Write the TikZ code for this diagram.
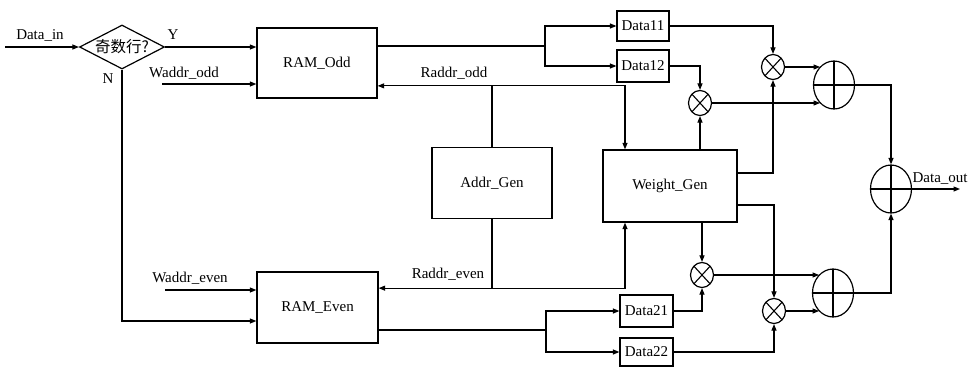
\documentclass[tikz,border=0pt]{standalone}
\usepackage{fontspec}
\setmainfont{Liberation Serif}
\newfontfamily\cjk{Noto Sans CJK SC}
\usetikzlibrary{arrows.meta,shapes.geometric,calc}
\begin{document}
\begin{tikzpicture}[x=1pt,y=-1pt,
  font=\fontsize{15}{18}\selectfont,
  line width=1.1pt,
  arr/.style={-{Triangle[length=6.5pt,width=5pt]}},
  blk/.style={draw,line width=1.3pt,rectangle,inner sep=0pt},
  dbox/.style={draw,line width=1.2pt,rectangle,inner sep=0pt,minimum width=52pt},
  mul/.style={draw,line width=1.2pt,ellipse,inner sep=0pt,minimum width=23pt,minimum height=25pt,
    path picture={\draw[line width=1.1pt] (path picture bounding box.north west)--(path picture bounding box.south east)
      (path picture bounding box.south west)--(path picture bounding box.north east);}},
  add/.style={draw,line width=1.2pt,ellipse,inner sep=0pt,minimum width=41pt,minimum height=48pt,
    path picture={\draw[line width=1.1pt] (path picture bounding box.north)--(path picture bounding box.south)
      (path picture bounding box.west)--(path picture bounding box.east);}},
  lbl/.style={inner sep=1pt}
]
\useasboundingbox (0,0) rectangle (972,367);

% nodes
\node[draw,line width=1.2pt,diamond,shape aspect=1.93,inner sep=0pt,minimum width=85pt,minimum height=44pt] (dia) at (122,47) {\cjk\fontsize{15.5}{18}\selectfont 奇数行?};
\node[blk,minimum width=120pt,minimum height=70pt] (ramodd) at (317,63) {RAM\_Odd};
\node[blk,minimum width=121pt,minimum height=71pt] (rameven) at (317.5,307.5) {RAM\_Even};
\node[blk,minimum width=120pt,minimum height=71pt] (addr) at (492,183) {Addr\_Gen};
\node[blk,minimum width=134pt,minimum height=72pt] (wgen) at (670,186) {Weight\_Gen};
\node[dbox,minimum height=30pt] (d11) at (643,26) {Data11};
\node[dbox,minimum height=32pt] (d12) at (643,66) {Data12};
\node[dbox,minimum width=53pt,minimum height=32pt] (d21) at (646.5,311) {Data21};
\node[dbox,minimum width=53pt,minimum height=28pt] (d22) at (646.5,352) {Data22};
\node[mul] (m1) at (773,67) {};
\node[mul] (m2) at (700,103) {};
\node[mul] (m3) at (702,275) {};
\node[mul] (m4) at (774,311) {};
\node[add] (a1) at (834,85) {};
\node[add] (a2) at (833,293) {};
\node[add] (a3) at (891,189) {};

% free ends
\coordinate (din) at (5,47);
\coordinate (wodd) at (162,84);
\coordinate (weven) at (165,290);
\coordinate (dout) at (960,189);
\coordinate (jodd) at ($(addr.north)+(0,-61)$);
\coordinate (jeven) at ($(addr.south)+(0,69)$);
\coordinate (sp1) at (545,46);
\coordinate (sp2) at (546,330);

% labels
\node[lbl] (ldin) at (40,35) {Data\_in};
\node[lbl] (ly) at (173,35) {Y};
\node[lbl] (ln) at (108,79) {N};
\node[lbl] (lwo) at (184,73) {Waddr\_odd};
\node[lbl] (lwe) at (190,278) {Waddr\_even};
\node[lbl] (lro) at (454,73) {Raddr\_odd};
\node[lbl] (lre) at (448,274) {Raddr\_even};
\node[lbl,anchor=base west,inner sep=0pt] (ldo) at ([yshift=7pt]a3.east) {Data\_out};

% connectors left
\draw[arr] (din) -- (dia.west);
\draw[arr] (dia.east) -- (dia.east -| ramodd.west);
\draw[arr] (wodd) -- (wodd -| ramodd.west);
\draw[arr] (dia.south) |- ([yshift=-13.5pt]rameven.west);
\draw[arr] (weven) -- (weven -| rameven.west);

% address generator
\draw (addr.north) -- (jodd);
\draw[arr] (jodd) -- (jodd -| ramodd.east);
\draw[arr] (jodd) -| ([xshift=-45pt]wgen.north);
\draw (addr.south) -- (jeven);
\draw[arr] (jeven) -- (jeven -| rameven.east);
\draw[arr] (jeven) -| ([xshift=-45pt]wgen.south);

% RAM outputs
\draw ([yshift=17pt]ramodd.east) -- (sp1);
\draw[arr] (sp1) |- (d11.west);
\draw[arr] (sp1) |- (d12.west);
\draw ([yshift=-22.5pt]rameven.east) -- (sp2);
\draw[arr] (sp2) |- (d21.west);
\draw[arr] (sp2) |- (d22.west);

% data to multipliers
\draw[arr] (d11.east) -| (m1.north);
\draw[arr] (d12.east) -| (m2.north);
\draw[arr] (d21.east) -| (m3.south);
\draw[arr] (d22.east) -| (m4.south);

% weights to multipliers
\draw[arr] (m2 |- wgen.north) -- (m2.south);
\draw[arr] (m3 |- wgen.south) -- (m3.north);
\draw[arr] ([yshift=13pt]wgen.east) -| (m1.south);
\draw[arr] ([yshift=-19pt]wgen.east) -| (m4.north);

% multipliers to adders
\draw[arr] (m1.east) -- (m1.east -| a1.127);
\draw[arr] (m2.east) -- (m2.east -| a1.233);
\draw[arr] (m3.east) -- (m3.east -| a2.127);
\draw[arr] (m4.east) -- (m4.east -| a2.233);

% adders
\draw[arr] (a1.east) -| (a3.north);
\draw[arr] (a2.east) -| (a3.south);
\draw[arr] (a3.east) -- (dout);
\end{tikzpicture}
\end{document}
